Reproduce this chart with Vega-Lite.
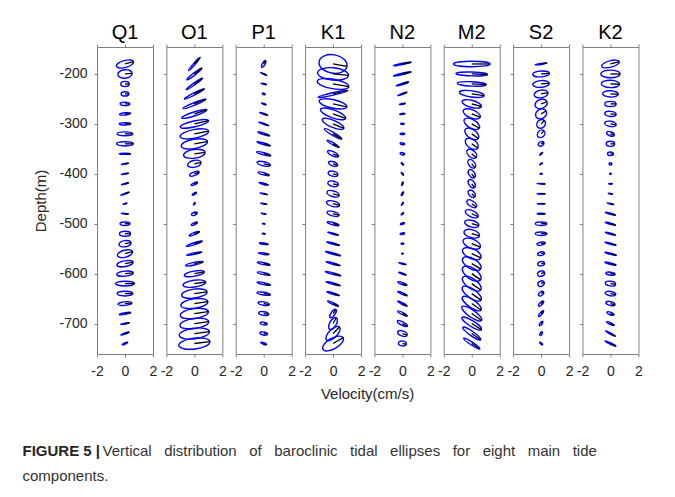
{
"$schema":"https://vega.github.io/schema/vega-lite/v6.json",
"background":"white",
"padding":{"left":22,"top":22,"right":5,"bottom":5},
"datasets":{"e":[
{"c":"Q1","d":-180,"a":1.26,"r":0.4,"i":15},{"c":"Q1","d":-200,"a":1.02,"r":0.6,"i":5},{"c":"Q1","d":-220,"a":0.6,"r":0.6,"i":0},{"c":"Q1","d":-240,"a":0.55,"r":0.55,"i":0},{"c":"Q1","d":-260,"a":0.69,"r":0.35,"i":0},{"c":"Q1","d":-280,"a":0.79,"r":0.2,"i":5},{"c":"Q1","d":-300,"a":0.83,"r":0.2,"i":0},{"c":"Q1","d":-320,"a":1.12,"r":0.25,"i":0},{"c":"Q1","d":-340,"a":1.19,"r":0.25,"i":0},{"c":"Q1","d":-360,"a":0.83,"r":0.1,"i":0},{"c":"Q1","d":-380,"a":0.52,"r":0.1,"i":10},{"c":"Q1","d":-400,"a":0.52,"r":0.1,"i":10},{"c":"Q1","d":-420,"a":0.55,"r":0.1,"i":15},{"c":"Q1","d":-440,"a":0.64,"r":0.1,"i":20},{"c":"Q1","d":-460,"a":0.29,"r":0.2,"i":15},{"c":"Q1","d":-480,"a":0.52,"r":0.1,"i":-5},{"c":"Q1","d":-500,"a":0.71,"r":0.35,"i":0},{"c":"Q1","d":-520,"a":0.79,"r":0.45,"i":0},{"c":"Q1","d":-540,"a":0.88,"r":0.5,"i":10},{"c":"Q1","d":-560,"a":1.12,"r":0.45,"i":15},{"c":"Q1","d":-580,"a":1.17,"r":0.35,"i":10},{"c":"Q1","d":-600,"a":1.19,"r":0.3,"i":5},{"c":"Q1","d":-620,"a":1.36,"r":0.25,"i":0},{"c":"Q1","d":-640,"a":1.12,"r":0.3,"i":0},{"c":"Q1","d":-660,"a":1.0,"r":0.25,"i":5},{"c":"Q1","d":-680,"a":0.83,"r":0.15,"i":10},{"c":"Q1","d":-700,"a":0.64,"r":0.1,"i":10},{"c":"Q1","d":-720,"a":0.64,"r":0.12,"i":20},{"c":"Q1","d":-740,"a":0.43,"r":0.2,"i":25},
{"c":"O1","d":-180,"a":1.26,"r":0.1,"i":49},{"c":"O1","d":-200,"a":1.36,"r":0.12,"i":38},{"c":"O1","d":-220,"a":1.43,"r":0.1,"i":35},{"c":"O1","d":-240,"a":1.6,"r":0.1,"i":27},{"c":"O1","d":-260,"a":1.79,"r":0.1,"i":22},{"c":"O1","d":-280,"a":1.88,"r":0.15,"i":18},{"c":"O1","d":-300,"a":2.07,"r":0.2,"i":13},{"c":"O1","d":-320,"a":2.07,"r":0.3,"i":11},{"c":"O1","d":-340,"a":1.9,"r":0.35,"i":10},{"c":"O1","d":-360,"a":1.55,"r":0.4,"i":8},{"c":"O1","d":-380,"a":0.98,"r":0.5,"i":12},{"c":"O1","d":-400,"a":0.71,"r":0.35,"i":20},{"c":"O1","d":-420,"a":0.5,"r":0.3,"i":25},{"c":"O1","d":-440,"a":0.36,"r":0.3,"i":30},{"c":"O1","d":-460,"a":0.19,"r":0.4,"i":60},{"c":"O1","d":-480,"a":0.43,"r":0.5,"i":25},{"c":"O1","d":-500,"a":0.48,"r":0.3,"i":25},{"c":"O1","d":-520,"a":0.79,"r":0.2,"i":22},{"c":"O1","d":-540,"a":1.19,"r":0.12,"i":18},{"c":"O1","d":-560,"a":1.1,"r":0.1,"i":12},{"c":"O1","d":-580,"a":1.29,"r":0.15,"i":12},{"c":"O1","d":-600,"a":1.45,"r":0.25,"i":10},{"c":"O1","d":-620,"a":1.64,"r":0.3,"i":8},{"c":"O1","d":-640,"a":1.83,"r":0.35,"i":8},{"c":"O1","d":-660,"a":1.95,"r":0.35,"i":8},{"c":"O1","d":-680,"a":2.02,"r":0.35,"i":8},{"c":"O1","d":-700,"a":2.07,"r":0.35,"i":8},{"c":"O1","d":-720,"a":2.17,"r":0.35,"i":7},{"c":"O1","d":-740,"a":2.24,"r":0.35,"i":7},
{"c":"P1","d":-180,"a":0.55,"r":0.35,"i":60},{"c":"P1","d":-200,"a":0.48,"r":0.1,"i":-25},{"c":"P1","d":-220,"a":0.4,"r":0.15,"i":-15},{"c":"P1","d":-240,"a":0.21,"r":0.5,"i":-20},{"c":"P1","d":-260,"a":0.36,"r":0.2,"i":-20},{"c":"P1","d":-280,"a":0.62,"r":0.1,"i":-20},{"c":"P1","d":-300,"a":0.76,"r":0.1,"i":-20},{"c":"P1","d":-320,"a":0.9,"r":0.12,"i":-18},{"c":"P1","d":-340,"a":1.0,"r":0.12,"i":-16},{"c":"P1","d":-360,"a":1.05,"r":0.15,"i":-15},{"c":"P1","d":-380,"a":0.98,"r":0.3,"i":-13},{"c":"P1","d":-400,"a":0.83,"r":0.2,"i":-15},{"c":"P1","d":-420,"a":0.67,"r":0.15,"i":-15},{"c":"P1","d":-440,"a":0.55,"r":0.1,"i":-12},{"c":"P1","d":-460,"a":0.45,"r":0.1,"i":-12},{"c":"P1","d":-480,"a":0.36,"r":0.1,"i":-15},{"c":"P1","d":-500,"a":0.19,"r":0.3,"i":-10},{"c":"P1","d":-520,"a":0.21,"r":0.3,"i":-10},{"c":"P1","d":-540,"a":0.64,"r":0.15,"i":-8},{"c":"P1","d":-560,"a":0.76,"r":0.15,"i":-8},{"c":"P1","d":-580,"a":0.93,"r":0.15,"i":-12},{"c":"P1","d":-600,"a":0.93,"r":0.15,"i":-12},{"c":"P1","d":-620,"a":0.98,"r":0.15,"i":-12},{"c":"P1","d":-640,"a":0.98,"r":0.2,"i":-8},{"c":"P1","d":-660,"a":0.81,"r":0.3,"i":-10},{"c":"P1","d":-680,"a":0.74,"r":0.35,"i":-10},{"c":"P1","d":-700,"a":0.5,"r":0.4,"i":-10},{"c":"P1","d":-720,"a":0.55,"r":0.4,"i":-10},{"c":"P1","d":-740,"a":0.45,"r":0.25,"i":-20},
{"c":"K1","d":-180,"a":2.02,"r":0.65,"i":-10},{"c":"K1","d":-200,"a":2.21,"r":0.4,"i":-5},{"c":"K1","d":-220,"a":2.29,"r":0.3,"i":-10},{"c":"K1","d":-240,"a":2.19,"r":0.08,"i":13},{"c":"K1","d":-260,"a":2.02,"r":0.3,"i":-12},{"c":"K1","d":-280,"a":1.9,"r":0.3,"i":-20},{"c":"K1","d":-300,"a":1.67,"r":0.3,"i":-23},{"c":"K1","d":-320,"a":1.43,"r":0.15,"i":-30},{"c":"K1","d":-340,"a":1.0,"r":0.15,"i":-30},{"c":"K1","d":-360,"a":0.86,"r":0.35,"i":-25},{"c":"K1","d":-380,"a":0.69,"r":0.45,"i":-20},{"c":"K1","d":-400,"a":0.71,"r":0.5,"i":-15},{"c":"K1","d":-420,"a":0.76,"r":0.5,"i":-15},{"c":"K1","d":-440,"a":0.9,"r":0.45,"i":-15},{"c":"K1","d":-460,"a":0.95,"r":0.4,"i":-15},{"c":"K1","d":-480,"a":0.9,"r":0.35,"i":-15},{"c":"K1","d":-500,"a":0.88,"r":0.2,"i":-15},{"c":"K1","d":-520,"a":0.79,"r":0.1,"i":-15},{"c":"K1","d":-540,"a":0.95,"r":0.1,"i":-15},{"c":"K1","d":-560,"a":1.12,"r":0.1,"i":-15},{"c":"K1","d":-580,"a":1.05,"r":0.1,"i":-15},{"c":"K1","d":-600,"a":1.14,"r":0.1,"i":-15},{"c":"K1","d":-620,"a":1.07,"r":0.1,"i":-15},{"c":"K1","d":-640,"a":0.95,"r":0.1,"i":-17},{"c":"K1","d":-660,"a":0.86,"r":0.15,"i":-25},{"c":"K1","d":-680,"a":0.71,"r":0.4,"i":55},{"c":"K1","d":-700,"a":0.95,"r":0.5,"i":60},{"c":"K1","d":-720,"a":1.31,"r":0.45,"i":45},{"c":"K1","d":-740,"a":1.67,"r":0.45,"i":30},
{"c":"N2","d":-180,"a":1.29,"r":0.08,"i":11},{"c":"N2","d":-200,"a":1.29,"r":0.08,"i":13},{"c":"N2","d":-220,"a":0.95,"r":0.1,"i":17},{"c":"N2","d":-240,"a":0.71,"r":0.1,"i":20},{"c":"N2","d":-260,"a":0.43,"r":0.15,"i":12},{"c":"N2","d":-280,"a":0.38,"r":0.2,"i":5},{"c":"N2","d":-300,"a":0.26,"r":0.35,"i":0},{"c":"N2","d":-320,"a":0.33,"r":0.35,"i":0},{"c":"N2","d":-340,"a":0.33,"r":0.4,"i":-10},{"c":"N2","d":-360,"a":0.33,"r":0.5,"i":-15},{"c":"N2","d":-380,"a":0.24,"r":0.3,"i":-45},{"c":"N2","d":-400,"a":0.26,"r":0.3,"i":-50},{"c":"N2","d":-420,"a":0.26,"r":0.3,"i":70},{"c":"N2","d":-440,"a":0.31,"r":0.3,"i":60},{"c":"N2","d":-460,"a":0.26,"r":0.25,"i":60},{"c":"N2","d":-480,"a":0.24,"r":0.3,"i":40},{"c":"N2","d":-500,"a":0.31,"r":0.35,"i":20},{"c":"N2","d":-520,"a":0.33,"r":0.35,"i":10},{"c":"N2","d":-540,"a":0.19,"r":0.5,"i":0},{"c":"N2","d":-560,"a":0.12,"r":0.5,"i":0},{"c":"N2","d":-580,"a":0.55,"r":0.1,"i":-15},{"c":"N2","d":-600,"a":0.57,"r":0.15,"i":-20},{"c":"N2","d":-620,"a":0.69,"r":0.2,"i":-20},{"c":"N2","d":-640,"a":0.74,"r":0.15,"i":-23},{"c":"N2","d":-660,"a":0.76,"r":0.15,"i":-28},{"c":"N2","d":-680,"a":0.76,"r":0.2,"i":-28},{"c":"N2","d":-700,"a":0.81,"r":0.3,"i":-27},{"c":"N2","d":-720,"a":0.71,"r":0.5,"i":-20},{"c":"N2","d":-740,"a":0.57,"r":0.6,"i":-10},
{"c":"M2","d":-180,"a":2.62,"r":0.15,"i":0},{"c":"M2","d":-200,"a":2.26,"r":0.12,"i":-2},{"c":"M2","d":-220,"a":2.07,"r":0.15,"i":-3},{"c":"M2","d":-240,"a":1.79,"r":0.25,"i":-8},{"c":"M2","d":-260,"a":1.43,"r":0.35,"i":-15},{"c":"M2","d":-280,"a":1.31,"r":0.45,"i":-22},{"c":"M2","d":-300,"a":1.24,"r":0.5,"i":-30},{"c":"M2","d":-320,"a":1.14,"r":0.55,"i":-35},{"c":"M2","d":-340,"a":1.05,"r":0.6,"i":-35},{"c":"M2","d":-360,"a":0.83,"r":0.6,"i":-40},{"c":"M2","d":-380,"a":0.71,"r":0.6,"i":-50},{"c":"M2","d":-400,"a":0.67,"r":0.6,"i":-55},{"c":"M2","d":-420,"a":0.67,"r":0.6,"i":-55},{"c":"M2","d":-440,"a":0.62,"r":0.65,"i":-45},{"c":"M2","d":-460,"a":0.79,"r":0.5,"i":-35},{"c":"M2","d":-480,"a":1.0,"r":0.45,"i":-25},{"c":"M2","d":-500,"a":1.05,"r":0.45,"i":-15},{"c":"M2","d":-520,"a":1.14,"r":0.5,"i":-15},{"c":"M2","d":-540,"a":1.33,"r":0.5,"i":-22},{"c":"M2","d":-560,"a":1.43,"r":0.5,"i":-25},{"c":"M2","d":-580,"a":1.48,"r":0.5,"i":-30},{"c":"M2","d":-600,"a":1.55,"r":0.5,"i":-35},{"c":"M2","d":-620,"a":1.57,"r":0.45,"i":-35},{"c":"M2","d":-640,"a":1.62,"r":0.4,"i":-35},{"c":"M2","d":-660,"a":1.62,"r":0.35,"i":-35},{"c":"M2","d":-680,"a":1.71,"r":0.3,"i":-35},{"c":"M2","d":-700,"a":1.64,"r":0.25,"i":-32},{"c":"M2","d":-720,"a":1.55,"r":0.2,"i":-35},{"c":"M2","d":-740,"a":1.38,"r":0.15,"i":-33},
{"c":"S2","d":-180,"a":0.86,"r":0.08,"i":8},{"c":"S2","d":-200,"a":1.19,"r":0.35,"i":3},{"c":"S2","d":-220,"a":1.19,"r":0.4,"i":5},{"c":"S2","d":-240,"a":1.0,"r":0.55,"i":10},{"c":"S2","d":-260,"a":0.9,"r":0.7,"i":20},{"c":"S2","d":-280,"a":0.83,"r":0.8,"i":30},{"c":"S2","d":-300,"a":0.67,"r":0.85,"i":45},{"c":"S2","d":-320,"a":0.6,"r":0.8,"i":45},{"c":"S2","d":-340,"a":0.43,"r":0.7,"i":30},{"c":"S2","d":-360,"a":0.29,"r":0.2,"i":40},{"c":"S2","d":-380,"a":0.24,"r":0.25,"i":30},{"c":"S2","d":-400,"a":0.17,"r":0.4,"i":10},{"c":"S2","d":-420,"a":0.6,"r":0.08,"i":-3},{"c":"S2","d":-440,"a":0.6,"r":0.1,"i":0},{"c":"S2","d":-460,"a":0.57,"r":0.1,"i":0},{"c":"S2","d":-480,"a":0.57,"r":0.15,"i":0},{"c":"S2","d":-500,"a":0.83,"r":0.3,"i":0},{"c":"S2","d":-520,"a":0.83,"r":0.3,"i":0},{"c":"S2","d":-540,"a":0.6,"r":0.35,"i":10},{"c":"S2","d":-560,"a":0.5,"r":0.5,"i":10},{"c":"S2","d":-580,"a":0.5,"r":0.6,"i":10},{"c":"S2","d":-600,"a":0.52,"r":0.7,"i":20},{"c":"S2","d":-620,"a":0.48,"r":0.75,"i":30},{"c":"S2","d":-640,"a":0.43,"r":0.6,"i":40},{"c":"S2","d":-660,"a":0.48,"r":0.4,"i":45},{"c":"S2","d":-680,"a":0.52,"r":0.3,"i":50},{"c":"S2","d":-700,"a":0.38,"r":0.4,"i":55},{"c":"S2","d":-720,"a":0.29,"r":0.5,"i":60},{"c":"S2","d":-740,"a":0.29,"r":0.3,"i":-40},
{"c":"K2","d":-180,"a":1.31,"r":0.35,"i":15},{"c":"K2","d":-200,"a":1.38,"r":0.4,"i":0},{"c":"K2","d":-220,"a":1.31,"r":0.4,"i":-2},{"c":"K2","d":-240,"a":1.12,"r":0.4,"i":-3},{"c":"K2","d":-260,"a":0.81,"r":0.45,"i":0},{"c":"K2","d":-280,"a":0.81,"r":0.45,"i":-5},{"c":"K2","d":-300,"a":0.83,"r":0.45,"i":-10},{"c":"K2","d":-320,"a":0.57,"r":0.5,"i":-20},{"c":"K2","d":-340,"a":0.6,"r":0.6,"i":0},{"c":"K2","d":-360,"a":0.43,"r":0.6,"i":0},{"c":"K2","d":-380,"a":0.21,"r":0.8,"i":0},{"c":"K2","d":-400,"a":0.12,"r":0.6,"i":0},{"c":"K2","d":-420,"a":0.29,"r":0.2,"i":0},{"c":"K2","d":-440,"a":0.33,"r":0.15,"i":-10},{"c":"K2","d":-460,"a":0.5,"r":0.1,"i":-15},{"c":"K2","d":-480,"a":0.76,"r":0.12,"i":-15},{"c":"K2","d":-500,"a":0.76,"r":0.12,"i":-15},{"c":"K2","d":-520,"a":0.76,"r":0.1,"i":-15},{"c":"K2","d":-540,"a":0.83,"r":0.1,"i":-15},{"c":"K2","d":-560,"a":0.86,"r":0.1,"i":-15},{"c":"K2","d":-580,"a":0.83,"r":0.12,"i":-15},{"c":"K2","d":-600,"a":0.67,"r":0.3,"i":-8},{"c":"K2","d":-620,"a":0.74,"r":0.45,"i":-8},{"c":"K2","d":-640,"a":0.76,"r":0.4,"i":-10},{"c":"K2","d":-660,"a":0.67,"r":0.4,"i":-15},{"c":"K2","d":-680,"a":0.52,"r":0.35,"i":-20},{"c":"K2","d":-700,"a":0.6,"r":0.2,"i":-25},{"c":"K2","d":-720,"a":0.81,"r":0.1,"i":-28},{"c":"K2","d":-740,"a":0.86,"r":0.1,"i":-25}
]},
"data":{"name":"e"},
"config":{
 "view":{"stroke":"#808080","strokeWidth":1},
 "axis":{"domain":false,"grid":false,"tickSize":3,"tickColor":"#808080","tickWidth":1,"labelFont":"Liberation Sans","labelFontSize":14,"labelColor":"#262626","titleFont":"Liberation Sans","titleFontSize":15,"titleFontWeight":"normal","titleColor":"#262626","labelFlush":false,"labelOverlap":false},
 "axisX":{"labelPadding":7.5,"titlePadding":8},
 "axisY":{"labelPadding":7,"titlePadding":10},
 "title":{"font":"Liberation Sans","fontSize":20,"fontWeight":"normal","color":"#000000","offset":1}
},
"title":{"text":"Vertical \u00a0\u00a0distribution \u00a0\u00a0of \u00a0\u00a0baroclinic \u00a0\u00a0tidal \u00a0\u00a0ellipses \u00a0\u00a0for \u00a0\u00a0eight \u00a0\u00a0main \u00a0\u00a0tide","orient":"bottom","anchor":"start","frame":"bounds","font":"Liberation Sans","fontSize":15,"fontWeight":"normal","color":"#333333","offset":-40,"dx":80},
"vconcat":[
{"title":{"text":"FIGURE 5 |","subtitle":"components.","orient":"bottom","anchor":"start","frame":"bounds","font":"Liberation Sans","fontSize":15,"fontWeight":"bold","color":"#262626","subtitleFont":"Liberation Sans","subtitleFontSize":15,"subtitleFontWeight":"normal","subtitleColor":"#333333","subtitlePadding":10,"offset":42,"dx":-11},
"spacing":13.35,
"bounds":"flush",
"hconcat":[
{"title":{"text":"Q1"},"width":56,"height":307,"transform":[{"filter":{"field":"c","equal":"Q1"}}],
 "layer":[
 {"mark":{"type":"point","filled":false,"color":"#0000ff","strokeWidth":1.4,"opacity":1},
  "encoding":{"x":{"datum":0,"type":"quantitative","scale":{"domain":[-2,2],"nice":false,"zero":false},"axis":{"orient":"bottom","values":[-2,0,2],"title":null,"labelExpr":"'' + datum.value"}},
   "y":{"field":"d","type":"quantitative","scale":{"domain":[-761,-146],"nice":false,"zero":false},"axis":{"values":[-700,-600,-500,-400,-300,-200],"title":"Depth(m)","labelExpr":"'' + datum.value"}},
   "size":{"field":"a","type":"quantitative","scale":{"type":"pow","exponent":2,"domain":[0,4],"range":[0,3136]},"legend":null},
   "shape":{"field":"r","type":"nominal","scale":{"domain":[0.08,0.1,0.12,0.15,0.2,0.25,0.3,0.35,0.4,0.45,0.5,0.55,0.6,0.65,0.7,0.75,0.8,0.85],"range":["M-1,0A1,0.08,0,0,1,1,0A1,0.08,0,0,1,-1,0Z","M-1,0A1,0.1,0,0,1,1,0A1,0.1,0,0,1,-1,0Z","M-1,0A1,0.12,0,0,1,1,0A1,0.12,0,0,1,-1,0Z","M-1,0A1,0.15,0,0,1,1,0A1,0.15,0,0,1,-1,0Z","M-1,0A1,0.2,0,0,1,1,0A1,0.2,0,0,1,-1,0Z","M-1,0A1,0.25,0,0,1,1,0A1,0.25,0,0,1,-1,0Z","M-1,0A1,0.3,0,0,1,1,0A1,0.3,0,0,1,-1,0Z","M-1,0A1,0.35,0,0,1,1,0A1,0.35,0,0,1,-1,0Z","M-1,0A1,0.4,0,0,1,1,0A1,0.4,0,0,1,-1,0Z","M-1,0A1,0.45,0,0,1,1,0A1,0.45,0,0,1,-1,0Z","M-1,0A1,0.5,0,0,1,1,0A1,0.5,0,0,1,-1,0Z","M-1,0A1,0.55,0,0,1,1,0A1,0.55,0,0,1,-1,0Z","M-1,0A1,0.6,0,0,1,1,0A1,0.6,0,0,1,-1,0Z","M-1,0A1,0.65,0,0,1,1,0A1,0.65,0,0,1,-1,0Z","M-1,0A1,0.7,0,0,1,1,0A1,0.7,0,0,1,-1,0Z","M-1,0A1,0.75,0,0,1,1,0A1,0.75,0,0,1,-1,0Z","M-1,0A1,0.8,0,0,1,1,0A1,0.8,0,0,1,-1,0Z","M-1,0A1,0.85,0,0,1,1,0A1,0.85,0,0,1,-1,0Z"]},"legend":null},
   "angle":{"field":"i","type":"quantitative","scale":{"domain":[-180,180],"range":[180,-180]}}}},
 {"mark":{"type":"point","filled":false,"color":"#000000","strokeWidth":1.3,"opacity":1,"shape":"M0,0L1,0"},
  "encoding":{"x":{"datum":0,"type":"quantitative","scale":{"domain":[-2,2],"nice":false,"zero":false},"axis":{"orient":"top","values":[-2,0,2],"labels":false,"title":null}},
   "y":{"field":"d","type":"quantitative","axis":{"values":[-700,-600,-500,-400,-300,-200],"title":"Depth(m)","labelExpr":"'' + datum.value"}},
   "size":{"field":"a","type":"quantitative","scale":{"type":"pow","exponent":2,"domain":[0,4],"range":[0,3136]},"legend":null},
   "angle":{"field":"i","type":"quantitative","scale":{"domain":[-180,180],"range":[180,-180]}}}}
 ],"resolve":{"axis":{"x":"independent"}}},
{"title":{"text":"O1"},"width":56,"height":307,"transform":[{"filter":{"field":"c","equal":"O1"}}],
 "layer":[
 {"mark":{"type":"point","filled":false,"color":"#0000ff","strokeWidth":1.4,"opacity":1},
  "encoding":{"x":{"datum":0,"type":"quantitative","scale":{"domain":[-2,2],"nice":false,"zero":false},"axis":{"orient":"bottom","values":[-2,0,2],"title":null,"labelExpr":"'' + datum.value"}},
   "y":{"field":"d","type":"quantitative","scale":{"domain":[-761,-146],"nice":false,"zero":false},"axis":{"values":[-700,-600,-500,-400,-300,-200],"labels":false,"title":null}},
   "size":{"field":"a","type":"quantitative","scale":{"type":"pow","exponent":2,"domain":[0,4],"range":[0,3136]},"legend":null},
   "shape":{"field":"r","type":"nominal","scale":{"domain":[0.08,0.1,0.12,0.15,0.2,0.25,0.3,0.35,0.4,0.45,0.5,0.55,0.6,0.65,0.7,0.75,0.8,0.85],"range":["M-1,0A1,0.08,0,0,1,1,0A1,0.08,0,0,1,-1,0Z","M-1,0A1,0.1,0,0,1,1,0A1,0.1,0,0,1,-1,0Z","M-1,0A1,0.12,0,0,1,1,0A1,0.12,0,0,1,-1,0Z","M-1,0A1,0.15,0,0,1,1,0A1,0.15,0,0,1,-1,0Z","M-1,0A1,0.2,0,0,1,1,0A1,0.2,0,0,1,-1,0Z","M-1,0A1,0.25,0,0,1,1,0A1,0.25,0,0,1,-1,0Z","M-1,0A1,0.3,0,0,1,1,0A1,0.3,0,0,1,-1,0Z","M-1,0A1,0.35,0,0,1,1,0A1,0.35,0,0,1,-1,0Z","M-1,0A1,0.4,0,0,1,1,0A1,0.4,0,0,1,-1,0Z","M-1,0A1,0.45,0,0,1,1,0A1,0.45,0,0,1,-1,0Z","M-1,0A1,0.5,0,0,1,1,0A1,0.5,0,0,1,-1,0Z","M-1,0A1,0.55,0,0,1,1,0A1,0.55,0,0,1,-1,0Z","M-1,0A1,0.6,0,0,1,1,0A1,0.6,0,0,1,-1,0Z","M-1,0A1,0.65,0,0,1,1,0A1,0.65,0,0,1,-1,0Z","M-1,0A1,0.7,0,0,1,1,0A1,0.7,0,0,1,-1,0Z","M-1,0A1,0.75,0,0,1,1,0A1,0.75,0,0,1,-1,0Z","M-1,0A1,0.8,0,0,1,1,0A1,0.8,0,0,1,-1,0Z","M-1,0A1,0.85,0,0,1,1,0A1,0.85,0,0,1,-1,0Z"]},"legend":null},
   "angle":{"field":"i","type":"quantitative","scale":{"domain":[-180,180],"range":[180,-180]}}}},
 {"mark":{"type":"point","filled":false,"color":"#000000","strokeWidth":1.3,"opacity":1,"shape":"M0,0L1,0"},
  "encoding":{"x":{"datum":0,"type":"quantitative","scale":{"domain":[-2,2],"nice":false,"zero":false},"axis":{"orient":"top","values":[-2,0,2],"labels":false,"title":null}},
   "y":{"field":"d","type":"quantitative","axis":{"values":[-700,-600,-500,-400,-300,-200],"labels":false,"title":null}},
   "size":{"field":"a","type":"quantitative","scale":{"type":"pow","exponent":2,"domain":[0,4],"range":[0,3136]},"legend":null},
   "angle":{"field":"i","type":"quantitative","scale":{"domain":[-180,180],"range":[180,-180]}}}}
 ],"resolve":{"axis":{"x":"independent"}}},
{"title":{"text":"P1"},"width":56,"height":307,"transform":[{"filter":{"field":"c","equal":"P1"}}],
 "layer":[
 {"mark":{"type":"point","filled":false,"color":"#0000ff","strokeWidth":1.4,"opacity":1},
  "encoding":{"x":{"datum":0,"type":"quantitative","scale":{"domain":[-2,2],"nice":false,"zero":false},"axis":{"orient":"bottom","values":[-2,0,2],"title":null,"labelExpr":"'' + datum.value"}},
   "y":{"field":"d","type":"quantitative","scale":{"domain":[-761,-146],"nice":false,"zero":false},"axis":{"values":[-700,-600,-500,-400,-300,-200],"labels":false,"title":null}},
   "size":{"field":"a","type":"quantitative","scale":{"type":"pow","exponent":2,"domain":[0,4],"range":[0,3136]},"legend":null},
   "shape":{"field":"r","type":"nominal","scale":{"domain":[0.08,0.1,0.12,0.15,0.2,0.25,0.3,0.35,0.4,0.45,0.5,0.55,0.6,0.65,0.7,0.75,0.8,0.85],"range":["M-1,0A1,0.08,0,0,1,1,0A1,0.08,0,0,1,-1,0Z","M-1,0A1,0.1,0,0,1,1,0A1,0.1,0,0,1,-1,0Z","M-1,0A1,0.12,0,0,1,1,0A1,0.12,0,0,1,-1,0Z","M-1,0A1,0.15,0,0,1,1,0A1,0.15,0,0,1,-1,0Z","M-1,0A1,0.2,0,0,1,1,0A1,0.2,0,0,1,-1,0Z","M-1,0A1,0.25,0,0,1,1,0A1,0.25,0,0,1,-1,0Z","M-1,0A1,0.3,0,0,1,1,0A1,0.3,0,0,1,-1,0Z","M-1,0A1,0.35,0,0,1,1,0A1,0.35,0,0,1,-1,0Z","M-1,0A1,0.4,0,0,1,1,0A1,0.4,0,0,1,-1,0Z","M-1,0A1,0.45,0,0,1,1,0A1,0.45,0,0,1,-1,0Z","M-1,0A1,0.5,0,0,1,1,0A1,0.5,0,0,1,-1,0Z","M-1,0A1,0.55,0,0,1,1,0A1,0.55,0,0,1,-1,0Z","M-1,0A1,0.6,0,0,1,1,0A1,0.6,0,0,1,-1,0Z","M-1,0A1,0.65,0,0,1,1,0A1,0.65,0,0,1,-1,0Z","M-1,0A1,0.7,0,0,1,1,0A1,0.7,0,0,1,-1,0Z","M-1,0A1,0.75,0,0,1,1,0A1,0.75,0,0,1,-1,0Z","M-1,0A1,0.8,0,0,1,1,0A1,0.8,0,0,1,-1,0Z","M-1,0A1,0.85,0,0,1,1,0A1,0.85,0,0,1,-1,0Z"]},"legend":null},
   "angle":{"field":"i","type":"quantitative","scale":{"domain":[-180,180],"range":[180,-180]}}}},
 {"mark":{"type":"point","filled":false,"color":"#000000","strokeWidth":1.3,"opacity":1,"shape":"M0,0L1,0"},
  "encoding":{"x":{"datum":0,"type":"quantitative","scale":{"domain":[-2,2],"nice":false,"zero":false},"axis":{"orient":"top","values":[-2,0,2],"labels":false,"title":null}},
   "y":{"field":"d","type":"quantitative","axis":{"values":[-700,-600,-500,-400,-300,-200],"labels":false,"title":null}},
   "size":{"field":"a","type":"quantitative","scale":{"type":"pow","exponent":2,"domain":[0,4],"range":[0,3136]},"legend":null},
   "angle":{"field":"i","type":"quantitative","scale":{"domain":[-180,180],"range":[180,-180]}}}}
 ],"resolve":{"axis":{"x":"independent"}}},
{"title":{"text":"K1"},"width":56,"height":307,"transform":[{"filter":{"field":"c","equal":"K1"}}],
 "layer":[
 {"mark":{"type":"point","filled":false,"color":"#0000ff","strokeWidth":1.4,"opacity":1},
  "encoding":{"x":{"datum":0,"type":"quantitative","scale":{"domain":[-2,2],"nice":false,"zero":false},"axis":{"orient":"bottom","values":[-2,0,2],"title":"Velocity(cm/s)","titleX":62,"titleAlign":"center","labelExpr":"'' + datum.value"}},
   "y":{"field":"d","type":"quantitative","scale":{"domain":[-761,-146],"nice":false,"zero":false},"axis":{"values":[-700,-600,-500,-400,-300,-200],"labels":false,"title":null}},
   "size":{"field":"a","type":"quantitative","scale":{"type":"pow","exponent":2,"domain":[0,4],"range":[0,3136]},"legend":null},
   "shape":{"field":"r","type":"nominal","scale":{"domain":[0.08,0.1,0.12,0.15,0.2,0.25,0.3,0.35,0.4,0.45,0.5,0.55,0.6,0.65,0.7,0.75,0.8,0.85],"range":["M-1,0A1,0.08,0,0,1,1,0A1,0.08,0,0,1,-1,0Z","M-1,0A1,0.1,0,0,1,1,0A1,0.1,0,0,1,-1,0Z","M-1,0A1,0.12,0,0,1,1,0A1,0.12,0,0,1,-1,0Z","M-1,0A1,0.15,0,0,1,1,0A1,0.15,0,0,1,-1,0Z","M-1,0A1,0.2,0,0,1,1,0A1,0.2,0,0,1,-1,0Z","M-1,0A1,0.25,0,0,1,1,0A1,0.25,0,0,1,-1,0Z","M-1,0A1,0.3,0,0,1,1,0A1,0.3,0,0,1,-1,0Z","M-1,0A1,0.35,0,0,1,1,0A1,0.35,0,0,1,-1,0Z","M-1,0A1,0.4,0,0,1,1,0A1,0.4,0,0,1,-1,0Z","M-1,0A1,0.45,0,0,1,1,0A1,0.45,0,0,1,-1,0Z","M-1,0A1,0.5,0,0,1,1,0A1,0.5,0,0,1,-1,0Z","M-1,0A1,0.55,0,0,1,1,0A1,0.55,0,0,1,-1,0Z","M-1,0A1,0.6,0,0,1,1,0A1,0.6,0,0,1,-1,0Z","M-1,0A1,0.65,0,0,1,1,0A1,0.65,0,0,1,-1,0Z","M-1,0A1,0.7,0,0,1,1,0A1,0.7,0,0,1,-1,0Z","M-1,0A1,0.75,0,0,1,1,0A1,0.75,0,0,1,-1,0Z","M-1,0A1,0.8,0,0,1,1,0A1,0.8,0,0,1,-1,0Z","M-1,0A1,0.85,0,0,1,1,0A1,0.85,0,0,1,-1,0Z"]},"legend":null},
   "angle":{"field":"i","type":"quantitative","scale":{"domain":[-180,180],"range":[180,-180]}}}},
 {"mark":{"type":"point","filled":false,"color":"#000000","strokeWidth":1.3,"opacity":1,"shape":"M0,0L1,0"},
  "encoding":{"x":{"datum":0,"type":"quantitative","scale":{"domain":[-2,2],"nice":false,"zero":false},"axis":{"orient":"top","values":[-2,0,2],"labels":false,"title":null}},
   "y":{"field":"d","type":"quantitative","axis":{"values":[-700,-600,-500,-400,-300,-200],"labels":false,"title":null}},
   "size":{"field":"a","type":"quantitative","scale":{"type":"pow","exponent":2,"domain":[0,4],"range":[0,3136]},"legend":null},
   "angle":{"field":"i","type":"quantitative","scale":{"domain":[-180,180],"range":[180,-180]}}}}
 ],"resolve":{"axis":{"x":"independent"}}},
{"title":{"text":"N2"},"width":56,"height":307,"transform":[{"filter":{"field":"c","equal":"N2"}}],
 "layer":[
 {"mark":{"type":"point","filled":false,"color":"#0000ff","strokeWidth":1.4,"opacity":1},
  "encoding":{"x":{"datum":0,"type":"quantitative","scale":{"domain":[-2,2],"nice":false,"zero":false},"axis":{"orient":"bottom","values":[-2,0,2],"title":null,"labelExpr":"'' + datum.value"}},
   "y":{"field":"d","type":"quantitative","scale":{"domain":[-761,-146],"nice":false,"zero":false},"axis":{"values":[-700,-600,-500,-400,-300,-200],"labels":false,"title":null}},
   "size":{"field":"a","type":"quantitative","scale":{"type":"pow","exponent":2,"domain":[0,4],"range":[0,3136]},"legend":null},
   "shape":{"field":"r","type":"nominal","scale":{"domain":[0.08,0.1,0.12,0.15,0.2,0.25,0.3,0.35,0.4,0.45,0.5,0.55,0.6,0.65,0.7,0.75,0.8,0.85],"range":["M-1,0A1,0.08,0,0,1,1,0A1,0.08,0,0,1,-1,0Z","M-1,0A1,0.1,0,0,1,1,0A1,0.1,0,0,1,-1,0Z","M-1,0A1,0.12,0,0,1,1,0A1,0.12,0,0,1,-1,0Z","M-1,0A1,0.15,0,0,1,1,0A1,0.15,0,0,1,-1,0Z","M-1,0A1,0.2,0,0,1,1,0A1,0.2,0,0,1,-1,0Z","M-1,0A1,0.25,0,0,1,1,0A1,0.25,0,0,1,-1,0Z","M-1,0A1,0.3,0,0,1,1,0A1,0.3,0,0,1,-1,0Z","M-1,0A1,0.35,0,0,1,1,0A1,0.35,0,0,1,-1,0Z","M-1,0A1,0.4,0,0,1,1,0A1,0.4,0,0,1,-1,0Z","M-1,0A1,0.45,0,0,1,1,0A1,0.45,0,0,1,-1,0Z","M-1,0A1,0.5,0,0,1,1,0A1,0.5,0,0,1,-1,0Z","M-1,0A1,0.55,0,0,1,1,0A1,0.55,0,0,1,-1,0Z","M-1,0A1,0.6,0,0,1,1,0A1,0.6,0,0,1,-1,0Z","M-1,0A1,0.65,0,0,1,1,0A1,0.65,0,0,1,-1,0Z","M-1,0A1,0.7,0,0,1,1,0A1,0.7,0,0,1,-1,0Z","M-1,0A1,0.75,0,0,1,1,0A1,0.75,0,0,1,-1,0Z","M-1,0A1,0.8,0,0,1,1,0A1,0.8,0,0,1,-1,0Z","M-1,0A1,0.85,0,0,1,1,0A1,0.85,0,0,1,-1,0Z"]},"legend":null},
   "angle":{"field":"i","type":"quantitative","scale":{"domain":[-180,180],"range":[180,-180]}}}},
 {"mark":{"type":"point","filled":false,"color":"#000000","strokeWidth":1.3,"opacity":1,"shape":"M0,0L1,0"},
  "encoding":{"x":{"datum":0,"type":"quantitative","scale":{"domain":[-2,2],"nice":false,"zero":false},"axis":{"orient":"top","values":[-2,0,2],"labels":false,"title":null}},
   "y":{"field":"d","type":"quantitative","axis":{"values":[-700,-600,-500,-400,-300,-200],"labels":false,"title":null}},
   "size":{"field":"a","type":"quantitative","scale":{"type":"pow","exponent":2,"domain":[0,4],"range":[0,3136]},"legend":null},
   "angle":{"field":"i","type":"quantitative","scale":{"domain":[-180,180],"range":[180,-180]}}}}
 ],"resolve":{"axis":{"x":"independent"}}},
{"title":{"text":"M2"},"width":56,"height":307,"transform":[{"filter":{"field":"c","equal":"M2"}}],
 "layer":[
 {"mark":{"type":"point","filled":false,"color":"#0000ff","strokeWidth":1.4,"opacity":1},
  "encoding":{"x":{"datum":0,"type":"quantitative","scale":{"domain":[-2,2],"nice":false,"zero":false},"axis":{"orient":"bottom","values":[-2,0,2],"title":null,"labelExpr":"'' + datum.value"}},
   "y":{"field":"d","type":"quantitative","scale":{"domain":[-761,-146],"nice":false,"zero":false},"axis":{"values":[-700,-600,-500,-400,-300,-200],"labels":false,"title":null}},
   "size":{"field":"a","type":"quantitative","scale":{"type":"pow","exponent":2,"domain":[0,4],"range":[0,3136]},"legend":null},
   "shape":{"field":"r","type":"nominal","scale":{"domain":[0.08,0.1,0.12,0.15,0.2,0.25,0.3,0.35,0.4,0.45,0.5,0.55,0.6,0.65,0.7,0.75,0.8,0.85],"range":["M-1,0A1,0.08,0,0,1,1,0A1,0.08,0,0,1,-1,0Z","M-1,0A1,0.1,0,0,1,1,0A1,0.1,0,0,1,-1,0Z","M-1,0A1,0.12,0,0,1,1,0A1,0.12,0,0,1,-1,0Z","M-1,0A1,0.15,0,0,1,1,0A1,0.15,0,0,1,-1,0Z","M-1,0A1,0.2,0,0,1,1,0A1,0.2,0,0,1,-1,0Z","M-1,0A1,0.25,0,0,1,1,0A1,0.25,0,0,1,-1,0Z","M-1,0A1,0.3,0,0,1,1,0A1,0.3,0,0,1,-1,0Z","M-1,0A1,0.35,0,0,1,1,0A1,0.35,0,0,1,-1,0Z","M-1,0A1,0.4,0,0,1,1,0A1,0.4,0,0,1,-1,0Z","M-1,0A1,0.45,0,0,1,1,0A1,0.45,0,0,1,-1,0Z","M-1,0A1,0.5,0,0,1,1,0A1,0.5,0,0,1,-1,0Z","M-1,0A1,0.55,0,0,1,1,0A1,0.55,0,0,1,-1,0Z","M-1,0A1,0.6,0,0,1,1,0A1,0.6,0,0,1,-1,0Z","M-1,0A1,0.65,0,0,1,1,0A1,0.65,0,0,1,-1,0Z","M-1,0A1,0.7,0,0,1,1,0A1,0.7,0,0,1,-1,0Z","M-1,0A1,0.75,0,0,1,1,0A1,0.75,0,0,1,-1,0Z","M-1,0A1,0.8,0,0,1,1,0A1,0.8,0,0,1,-1,0Z","M-1,0A1,0.85,0,0,1,1,0A1,0.85,0,0,1,-1,0Z"]},"legend":null},
   "angle":{"field":"i","type":"quantitative","scale":{"domain":[-180,180],"range":[180,-180]}}}},
 {"mark":{"type":"point","filled":false,"color":"#000000","strokeWidth":1.3,"opacity":1,"shape":"M0,0L1,0"},
  "encoding":{"x":{"datum":0,"type":"quantitative","scale":{"domain":[-2,2],"nice":false,"zero":false},"axis":{"orient":"top","values":[-2,0,2],"labels":false,"title":null}},
   "y":{"field":"d","type":"quantitative","axis":{"values":[-700,-600,-500,-400,-300,-200],"labels":false,"title":null}},
   "size":{"field":"a","type":"quantitative","scale":{"type":"pow","exponent":2,"domain":[0,4],"range":[0,3136]},"legend":null},
   "angle":{"field":"i","type":"quantitative","scale":{"domain":[-180,180],"range":[180,-180]}}}}
 ],"resolve":{"axis":{"x":"independent"}}},
{"title":{"text":"S2"},"width":56,"height":307,"transform":[{"filter":{"field":"c","equal":"S2"}}],
 "layer":[
 {"mark":{"type":"point","filled":false,"color":"#0000ff","strokeWidth":1.4,"opacity":1},
  "encoding":{"x":{"datum":0,"type":"quantitative","scale":{"domain":[-2,2],"nice":false,"zero":false},"axis":{"orient":"bottom","values":[-2,0,2],"title":null,"labelExpr":"'' + datum.value"}},
   "y":{"field":"d","type":"quantitative","scale":{"domain":[-761,-146],"nice":false,"zero":false},"axis":{"values":[-700,-600,-500,-400,-300,-200],"labels":false,"title":null}},
   "size":{"field":"a","type":"quantitative","scale":{"type":"pow","exponent":2,"domain":[0,4],"range":[0,3136]},"legend":null},
   "shape":{"field":"r","type":"nominal","scale":{"domain":[0.08,0.1,0.12,0.15,0.2,0.25,0.3,0.35,0.4,0.45,0.5,0.55,0.6,0.65,0.7,0.75,0.8,0.85],"range":["M-1,0A1,0.08,0,0,1,1,0A1,0.08,0,0,1,-1,0Z","M-1,0A1,0.1,0,0,1,1,0A1,0.1,0,0,1,-1,0Z","M-1,0A1,0.12,0,0,1,1,0A1,0.12,0,0,1,-1,0Z","M-1,0A1,0.15,0,0,1,1,0A1,0.15,0,0,1,-1,0Z","M-1,0A1,0.2,0,0,1,1,0A1,0.2,0,0,1,-1,0Z","M-1,0A1,0.25,0,0,1,1,0A1,0.25,0,0,1,-1,0Z","M-1,0A1,0.3,0,0,1,1,0A1,0.3,0,0,1,-1,0Z","M-1,0A1,0.35,0,0,1,1,0A1,0.35,0,0,1,-1,0Z","M-1,0A1,0.4,0,0,1,1,0A1,0.4,0,0,1,-1,0Z","M-1,0A1,0.45,0,0,1,1,0A1,0.45,0,0,1,-1,0Z","M-1,0A1,0.5,0,0,1,1,0A1,0.5,0,0,1,-1,0Z","M-1,0A1,0.55,0,0,1,1,0A1,0.55,0,0,1,-1,0Z","M-1,0A1,0.6,0,0,1,1,0A1,0.6,0,0,1,-1,0Z","M-1,0A1,0.65,0,0,1,1,0A1,0.65,0,0,1,-1,0Z","M-1,0A1,0.7,0,0,1,1,0A1,0.7,0,0,1,-1,0Z","M-1,0A1,0.75,0,0,1,1,0A1,0.75,0,0,1,-1,0Z","M-1,0A1,0.8,0,0,1,1,0A1,0.8,0,0,1,-1,0Z","M-1,0A1,0.85,0,0,1,1,0A1,0.85,0,0,1,-1,0Z"]},"legend":null},
   "angle":{"field":"i","type":"quantitative","scale":{"domain":[-180,180],"range":[180,-180]}}}},
 {"mark":{"type":"point","filled":false,"color":"#000000","strokeWidth":1.3,"opacity":1,"shape":"M0,0L1,0"},
  "encoding":{"x":{"datum":0,"type":"quantitative","scale":{"domain":[-2,2],"nice":false,"zero":false},"axis":{"orient":"top","values":[-2,0,2],"labels":false,"title":null}},
   "y":{"field":"d","type":"quantitative","axis":{"values":[-700,-600,-500,-400,-300,-200],"labels":false,"title":null}},
   "size":{"field":"a","type":"quantitative","scale":{"type":"pow","exponent":2,"domain":[0,4],"range":[0,3136]},"legend":null},
   "angle":{"field":"i","type":"quantitative","scale":{"domain":[-180,180],"range":[180,-180]}}}}
 ],"resolve":{"axis":{"x":"independent"}}},
{"title":{"text":"K2"},"width":56,"height":307,"transform":[{"filter":{"field":"c","equal":"K2"}}],
 "layer":[
 {"mark":{"type":"point","filled":false,"color":"#0000ff","strokeWidth":1.4,"opacity":1},
  "encoding":{"x":{"datum":0,"type":"quantitative","scale":{"domain":[-2,2],"nice":false,"zero":false},"axis":{"orient":"bottom","values":[-2,0,2],"title":null,"labelExpr":"'' + datum.value"}},
   "y":{"field":"d","type":"quantitative","scale":{"domain":[-761,-146],"nice":false,"zero":false},"axis":{"values":[-700,-600,-500,-400,-300,-200],"labels":false,"title":null}},
   "size":{"field":"a","type":"quantitative","scale":{"type":"pow","exponent":2,"domain":[0,4],"range":[0,3136]},"legend":null},
   "shape":{"field":"r","type":"nominal","scale":{"domain":[0.08,0.1,0.12,0.15,0.2,0.25,0.3,0.35,0.4,0.45,0.5,0.55,0.6,0.65,0.7,0.75,0.8,0.85],"range":["M-1,0A1,0.08,0,0,1,1,0A1,0.08,0,0,1,-1,0Z","M-1,0A1,0.1,0,0,1,1,0A1,0.1,0,0,1,-1,0Z","M-1,0A1,0.12,0,0,1,1,0A1,0.12,0,0,1,-1,0Z","M-1,0A1,0.15,0,0,1,1,0A1,0.15,0,0,1,-1,0Z","M-1,0A1,0.2,0,0,1,1,0A1,0.2,0,0,1,-1,0Z","M-1,0A1,0.25,0,0,1,1,0A1,0.25,0,0,1,-1,0Z","M-1,0A1,0.3,0,0,1,1,0A1,0.3,0,0,1,-1,0Z","M-1,0A1,0.35,0,0,1,1,0A1,0.35,0,0,1,-1,0Z","M-1,0A1,0.4,0,0,1,1,0A1,0.4,0,0,1,-1,0Z","M-1,0A1,0.45,0,0,1,1,0A1,0.45,0,0,1,-1,0Z","M-1,0A1,0.5,0,0,1,1,0A1,0.5,0,0,1,-1,0Z","M-1,0A1,0.55,0,0,1,1,0A1,0.55,0,0,1,-1,0Z","M-1,0A1,0.6,0,0,1,1,0A1,0.6,0,0,1,-1,0Z","M-1,0A1,0.65,0,0,1,1,0A1,0.65,0,0,1,-1,0Z","M-1,0A1,0.7,0,0,1,1,0A1,0.7,0,0,1,-1,0Z","M-1,0A1,0.75,0,0,1,1,0A1,0.75,0,0,1,-1,0Z","M-1,0A1,0.8,0,0,1,1,0A1,0.8,0,0,1,-1,0Z","M-1,0A1,0.85,0,0,1,1,0A1,0.85,0,0,1,-1,0Z"]},"legend":null},
   "angle":{"field":"i","type":"quantitative","scale":{"domain":[-180,180],"range":[180,-180]}}}},
 {"mark":{"type":"point","filled":false,"color":"#000000","strokeWidth":1.3,"opacity":1,"shape":"M0,0L1,0"},
  "encoding":{"x":{"datum":0,"type":"quantitative","scale":{"domain":[-2,2],"nice":false,"zero":false},"axis":{"orient":"top","values":[-2,0,2],"labels":false,"title":null}},
   "y":{"field":"d","type":"quantitative","axis":{"values":[-700,-600,-500,-400,-300,-200],"labels":false,"title":null}},
   "size":{"field":"a","type":"quantitative","scale":{"type":"pow","exponent":2,"domain":[0,4],"range":[0,3136]},"legend":null},
   "angle":{"field":"i","type":"quantitative","scale":{"domain":[-180,180],"range":[180,-180]}}}}
 ],"resolve":{"axis":{"x":"independent"}}}
]}
]
}
